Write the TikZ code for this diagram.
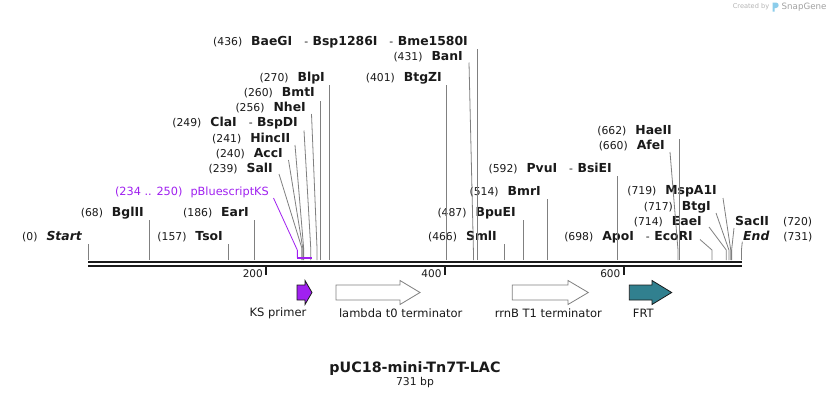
\documentclass[tikz,border=0pt]{standalone}
\usepackage{fontspec}
\setmainfont{DejaVu Sans}
\usepackage{tikz}
\usetikzlibrary{positioning}
\definecolor{ksviolet}{HTML}{A020F0}
\definecolor{frtteal}{HTML}{31808F}
\definecolor{sitegray}{HTML}{808080}
\definecolor{inkdark}{HTML}{1A1A1A}
\definecolor{creditgray}{HTML}{B4B4B4}
\definecolor{logoblue}{HTML}{8CCDEB}
\newcommand{\bpx}[1]{88.3+0.8935*#1}
\newcommand{\nf}{\fontsize{10.8}{12}\selectfont\mdseries\upshape}
\newcommand{\enzlabel}[2]{{\nf(#1)}\hspace{9pt}{\fontsize{12.4}{14}\selectfont\bfseries #2}}
\newcommand{\enzright}[2]{{\fontsize{12.4}{14}\selectfont\bfseries #1}\hspace{14pt}{\nf(#2)}}
\newcommand{\dsh}{\hspace{12pt}{\nf-}\hspace{4.5pt}}
\newcommand{\featarrow}[4][]{\draw [feat, #1] (#2,285) -- (#3,285) -- (#3,280.5) -- (#4,292.5) -- (#3,304.5) -- (#3,300) -- (#2,300) -- cycle;}

\begin{document}
\begin{tikzpicture}[x=1pt, y=-1pt,
    site/.style={draw=sitegray, line width=0.8pt},
    sitelabel/.style={anchor=east, inner xsep=0pt, inner ysep=1.5pt, text height=9pt, text depth=2.5pt, text=inkdark},
    backbone/.style={draw=inkdark, line width=2.3pt},
    tickmark/.style={draw=inkdark, line width=2pt},
    feat/.style={line width=0.8pt, line join=miter},
    featlabel/.style={font=\fontsize{11.5}{13}\selectfont, text=inkdark}]
    \fill [white] (0,0) rectangle (830,400);
    \useasboundingbox (0,0) rectangle (830,400);

    % credit
    \node (credit) [font=\fontsize{6.6}{8}\selectfont, text=creditgray] at (751,7) {Created by};
    \fill [logoblue] (772.5,11.5) -- (772.5,2.5) -- (776,2.5) .. controls (779.5,2.5) and (779.5,8) .. (776,8) -- (774.6,8) -- (774.6,11.5) -- cycle;
    \node (brand) [anchor=west, inner sep=0pt, font=\fontsize{8.7}{10}\selectfont, text=creditgray!90!black] at (781.5,7.5) {SnapGene};

    % site labels
    \node (Start) [sitelabel] at (82,237) {\enzlabel{0}{\itshape Start}};
    \node (BglII) [sitelabel] at (144,213) {\enzlabel{68}{BglII}};
    \node (TsoI) [sitelabel] at (223,237) {\enzlabel{157}{TsoI}};
    \node (EarI) [sitelabel] at (249,213) {\enzlabel{186}{EarI}};
    \node (KS) [sitelabel, text=ksviolet, font=\fontsize{11.3}{13}\selectfont] at (269,192) {(234 .. 250)\hspace{8pt}pBluescriptKS};
    \node (SalI) [sitelabel] at (273,169) {\enzlabel{239}{SalI}};
    \node (AccI) [sitelabel] at (283,154) {\enzlabel{240}{AccI}};
    \node (HincII) [sitelabel] at (290.5,139) {\enzlabel{241}{HincII}};
    \node (ClaI) [sitelabel] at (298,123.5) {\enzlabel{249}{ClaI\dsh BspDI}};
    \node (NheI) [sitelabel] at (306,108.5) {\enzlabel{256}{NheI}};
    \node (BmtI) [sitelabel] at (315,93.3) {\enzlabel{260}{BmtI}};
    \node (BlpI) [sitelabel] at (325,78) {\enzlabel{270}{BlpI}};
    \node (BaeGI) [sitelabel] at (468,42) {\enzlabel{436}{BaeGI\dsh Bsp1286I\dsh Bme1580I}};
    \node (BanI) [sitelabel] at (463,57) {\enzlabel{431}{BanI}};
    \node (BtgZI) [sitelabel] at (442,78) {\enzlabel{401}{BtgZI}};
    \node (SmlI) [sitelabel] at (497,237) {\enzlabel{466}{SmlI}};
    \node (BpuEI) [sitelabel] at (516,213) {\enzlabel{487}{BpuEI}};
    \node (BmrI) [sitelabel] at (541,192) {\enzlabel{514}{BmrI}};
    \node (PvuI) [sitelabel] at (612,169) {\enzlabel{592}{PvuI\dsh BsiEI}};
    \node (HaeII) [sitelabel] at (672,131.5) {\enzlabel{662}{HaeII}};
    \node (AfeI) [sitelabel] at (665,146.5) {\enzlabel{660}{AfeI}};
    \node (ApoI) [sitelabel] at (693,237) {\enzlabel{698}{ApoI\dsh EcoRI}};
    \node (EaeI) [sitelabel] at (702,222) {\enzlabel{714}{EaeI}};
    \node (BtgI) [sitelabel] at (711,207) {\enzlabel{717}{BtgI}};
    \node (MspAI) [sitelabel] at (717,191.5) {\enzlabel{719}{MspA1I}};
    \node (SacII) [sitelabel, anchor=west] at (735,222) {\enzright{SacII}{720}};
    \node (End) [sitelabel, anchor=west] at (743,237) {\enzright{\itshape End}{731}};

    % straight site lines
    \coordinate (s0) at ({\bpx{0}},260);     \draw [site] (s0) -- (s0 |- Start.south);
    \coordinate (s68) at ({\bpx{68}},260);   \draw [site] (s68) -- (s68 |- BglII.south);
    \coordinate (s157) at ({\bpx{157}},260); \draw [site] (s157) -- (s157 |- TsoI.south);
    \coordinate (s186) at ({\bpx{186}},260); \draw [site] (s186) -- (s186 |- EarI.south);
    \coordinate (s260) at ({\bpx{260}},260); \draw [site] (s260) -- (s260 |- BmtI.south);
    \coordinate (s270) at ({\bpx{270}},260); \draw [site] (s270) -- (s270 |- BlpI.south);
    \coordinate (s401) at ({\bpx{401}},260); \draw [site] (s401) -- (s401 |- BtgZI.south);
    \coordinate (s436) at ({\bpx{436}},260); \draw [site] (s436) -- (s436 |- BaeGI.south);
    \coordinate (s466) at ({\bpx{466}},260); \draw [site] (s466) -- (s466 |- SmlI.south);
    \coordinate (s487) at ({\bpx{487}},260); \draw [site] (s487) -- (s487 |- BpuEI.south);
    \coordinate (s514) at ({\bpx{514}},260); \draw [site] (s514) -- (s514 |- BmrI.south);
    \coordinate (s592) at ({\bpx{592}},260); \draw [site] (s592) -- (s592 |- PvuI.south);
    \coordinate (s662) at ({\bpx{662}},260); \draw [site] (s662) -- (s662 |- HaeII.south);

    % bent site lines
    \coordinate (s239) at ({\bpx{239}},260); \draw [site] (s239) -- ++(0,-12) -- ([shift={(6pt,-5pt)}]SalI.east);
    \coordinate (s240) at ({\bpx{240}},260); \draw [site] (s240) -- ++(0,-12) -- ([shift={(5.5pt,-6pt)}]AccI.east);
    \coordinate (s241) at ({\bpx{241}},260); \draw [site] (s241) -- ++(0,-12) -- ([shift={(4.5pt,-6pt)}]HincII.east);
    \coordinate (s249) at ({\bpx{249}},260); \draw [site] (s249) -- ++(0,-11) -- ([shift={(6pt,-7pt)}]ClaI.east);
    \coordinate (s256) at ({\bpx{256}},260); \draw [site] (s256) -- ++(0,-11) -- ([shift={(5.5pt,-5.5pt)}]NheI.east);
    \coordinate (s431) at ({\bpx{431}},260); \draw [site] (s431) -- ++(0,-10) -- ([shift={(6pt,-5.5pt)}]BanI.east);
    \coordinate (s660) at ({\bpx{660}},260); \draw [site] (s660) -- ++(0,-10) -- ([shift={(5pt,-5.5pt)}]AfeI.east);
    \coordinate (s698) at ({\bpx{698}},260); \draw [site] (s698) -- ++(0,-10) -- ([shift={(7pt,-2.5pt)}]ApoI.east);
    \coordinate (s714) at ({\bpx{714}},260); \draw [site] (s714) -- ++(0,-10) -- ([shift={(7pt,-5pt)}]EaeI.east);
    \coordinate (s717) at ({\bpx{717}},260); \draw [site] (s717) -- ++(0,-10) -- ([shift={(5pt,-6pt)}]BtgI.east);
    \coordinate (s719) at ({\bpx{719}},260); \draw [site] (s719) -- ++(0,-10) -- ([shift={(6pt,-6.5pt)}]MspAI.east);
    \coordinate (s720) at ({\bpx{720}},260); \draw [site] (s720) -- ++(0,-10) -- ([shift={(-1pt,-6pt)}]SacII.west);
    \coordinate (s731) at ({\bpx{731}},260); \draw [site] (s731) -- ++(0,-10) -- ([shift={(-0.7pt,-4.7pt)}]End.west);

    % primer binding site
    \coordinate (s234) at ({\bpx{234}},257.7);
    \draw [draw=ksviolet, line width=0.8pt] (s234) -- ++(0,-7.5) -- ([shift={(4.5pt,-6pt)}]KS.east);
    \draw [draw=ksviolet, line width=2pt] (s234) -- ({\bpx{250}},257.7);

    % backbone and ruler
    \draw [backbone] (88,262) -- (741.5,262);
    \draw [backbone] (88,266.3) -- (741.5,266.3);
    \draw [tickmark] (266,267) -- (266,275);
    \draw [tickmark] (444.7,267) -- (444.7,275);
    \draw [tickmark] (623.5,267) -- (623.5,275);
    \node (r200) [anchor=east, inner sep=0pt, font=\fontsize{10.5}{12}\selectfont, text=inkdark] at (263,274) {200};
    \node (r400) [anchor=east, inner sep=0pt, font=\fontsize{10.5}{12}\selectfont, text=inkdark] at (441.7,274) {400};
    \node (r600) [anchor=east, inner sep=0pt, font=\fontsize{10.5}{12}\selectfont, text=inkdark] at (620.5,274) {600};

    % features
    \featarrow[fill=ksviolet, draw=inkdark]{297}{305}{312}
    \featarrow[fill=white, draw=sitegray]{336}{400}{420}
    \featarrow[fill=white, draw=sitegray]{512.3}{568}{588.3}
    \featarrow[fill=frtteal, draw=inkdark]{629.3}{652}{671.7}
    \node (ksprimer) [featlabel] at (278,313) {KS primer};
    \node (lambda) [featlabel] at (400.7,313) {lambda t0 terminator};
    \node (rrnB) [featlabel] at (548.3,313) {rrnB T1 terminator};
    \node (FRT) [featlabel] at (643.3,313) {FRT};

    % title
    \node (title) [font=\fontsize{14.3}{16}\selectfont\bfseries, text=inkdark] at (415,369) {pUC18-mini-Tn7T-LAC};
    \node (size) [below of=title, node distance=14pt, font=\fontsize{10.8}{12}\selectfont, text=inkdark] {731 bp};
\end{tikzpicture}
\end{document}
